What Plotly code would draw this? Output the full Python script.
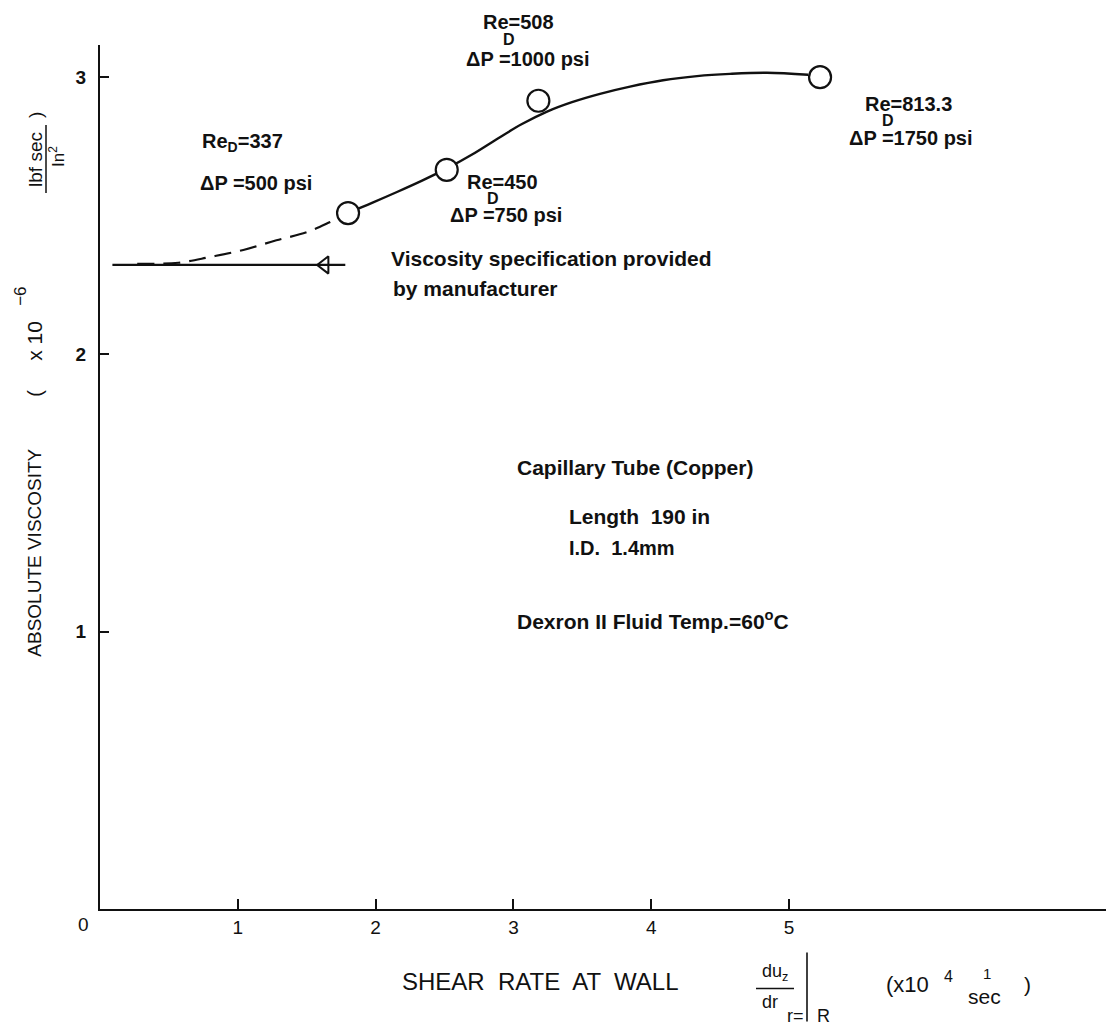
import plotly.graph_objects as go

# ---- data ----
shear_rate = [1.80, 2.516, 3.181, 5.225]        # x10^4 1/sec
viscosity = [2.509, 2.665, 2.914, 2.999]        # x10^-6 lbf sec/in^2

fit_x = [1.800, 1.974, 2.155, 2.337, 2.518, 2.700, 2.881, 3.062, 3.244, 3.425,
         3.628, 3.846, 4.086, 4.332, 4.572, 4.840, 5.138]
fit_y = [2.510, 2.546, 2.585, 2.626, 2.670, 2.720, 2.776, 2.830, 2.875, 2.909,
         2.939, 2.965, 2.988, 3.003, 3.011, 3.015, 3.008]

extrap_x = [0.27, 0.57, 0.80, 1.04, 1.28, 1.50, 1.67, 1.80]
extrap_y = [2.326, 2.330, 2.351, 2.376, 2.411, 2.440, 2.477, 2.509]

spec_x = [0.09, 1.78]
spec_y = [2.322, 2.322]
spec_marker_x = [1.63]
spec_marker_y = [2.322]

x_ticks = [1, 2, 3, 4, 5]
y_ticks = [1, 2, 3]

X_RANGE = [0, 7.30]
Y_RANGE = [0, 3.115]

# ---- layout geometry (pixels) ----
W, H = 1106, 1028
ML, MR, MT = 100, 0, 45
Y0PX = 909.5
MB = H - Y0PX
PW = W - ML - MR
PH = Y0PX - MT


def P(px, py):
    return (px - ML) / PW, (Y0PX - py) / PH


FONT = "Liberation Sans, Arial, Helvetica, sans-serif"
BLK = "#111111"

fig = go.Figure()

fig.add_trace(go.Scatter(x=spec_x, y=spec_y, mode="lines",
                         line=dict(color=BLK, width=2.2),
                         hoverinfo="skip", showlegend=False))
fig.add_trace(go.Scatter(x=extrap_x, y=extrap_y, mode="lines",
                         line=dict(color=BLK, width=2.2, dash="17px,9px", shape="spline"),
                         hoverinfo="skip", showlegend=False))
fig.add_trace(go.Scatter(x=fit_x, y=fit_y, mode="lines",
                         line=dict(color=BLK, width=2.4, shape="spline", smoothing=1.0),
                         hoverinfo="skip", showlegend=False))
fig.add_trace(go.Scatter(x=spec_marker_x, y=spec_marker_y, mode="markers",
                         marker=dict(symbol="triangle-left-open", size=15, color=BLK,
                                     line=dict(color=BLK, width=2)),
                         hoverinfo="skip", showlegend=False))
fig.add_trace(go.Scatter(x=shear_rate, y=viscosity, mode="markers",
                         marker=dict(symbol="circle", size=22, color="white",
                                     line=dict(color=BLK, width=2.2)),
                         hoverinfo="skip", showlegend=False))

annotations = []


def txt(text, px, py, size=20, xanchor="center", bold=True, angle=0):
    x, y = P(px, py)
    annotations.append(dict(
        text=("<b>%s</b>" % text) if bold else text,
        x=x, y=y, xref="paper", yref="paper",
        xanchor=xanchor, yanchor="middle", showarrow=False,
        textangle=angle,
        font=dict(family=FONT, size=size, color=BLK)))


# data-point labels
txt("Re<sub>D</sub>=337", 200, 143, xanchor="left")
txt("ΔP =500 psi", 198, 183, xanchor="left")
txt("Re=508", 481, 22, xanchor="left")
txt("D", 509, 39, size=16)
txt("ΔP =1000 psi", 464, 59, xanchor="left")
txt("Re=450", 465, 182, xanchor="left")
txt("D", 493, 199, size=16)
txt("ΔP =750 psi", 448, 215, xanchor="left")
txt("Re=813.3", 863, 104, xanchor="left")
txt("D", 888, 121, size=16)
txt("ΔP =1750 psi", 847, 138, xanchor="left")

txt("Viscosity specification provided", 389, 259, size=21, xanchor="left")
txt("by manufacturer", 391, 289, size=21, xanchor="left")

txt("Capillary Tube (Copper)", 635, 468, size=21)
txt("Length  190 in", 639, 517, size=21)
txt("I.D.  1.4mm", 567, 548, size=20, xanchor="left")
txt("Dexron II Fluid Temp.=60<sup>o</sup>C", 653, 620, size=21)

# tick label for origin
txt("0", 83, 925, size=19, bold=False)

# x axis title
txt("SHEAR  RATE  AT  WALL", 540, 982, size=24, bold=False)
txt("du<sub>z</sub>", 775, 973, size=18, bold=False)
txt("dr", 770, 1003, size=18, bold=False)
txt("r=", 806, 1017, size=18, bold=False, xanchor="right")
txt("R", 815, 1017, size=18, bold=False, xanchor="left")
txt("(x10", 907, 985, size=22, bold=False)
txt("4", 948, 977, size=16, bold=False)
txt("1", 987, 974, size=15, bold=False)
txt("sec", 984, 997, size=21, bold=False)
txt(")", 1027, 985, size=21, bold=False)

# y axis title (rotated)
txt("ABSOLUTE VISCOSITY", 35, 553, size=19, bold=False, angle=-90)
txt("(", 35, 394, size=20, bold=False, angle=-90)
txt("x 10", 35, 341, size=21, bold=False, angle=-90)
txt("−6", 21, 297, size=17, bold=False, angle=-90)
txt("lbf sec", 36, 160, size=19, bold=False, angle=-90)
txt("In<sup>2</sup>", 57, 157, size=17, bold=False, angle=-90)
txt(")", 36, 115, size=19, bold=False, angle=-90)

shapes = []
x1, y1 = P(756, 989)
x2, _ = P(794, 989)
shapes.append(dict(type="line", xref="paper", yref="paper", x0=x1, x1=x2, y0=y1, y1=y1,
                   line=dict(color=BLK, width=1.5)))
bx, by0 = P(807, 953)
_, by1 = P(807, 1022)
shapes.append(dict(type="line", xref="paper", yref="paper", x0=bx, x1=bx, y0=by0, y1=by1,
                   line=dict(color=BLK, width=1.6)))
fx, fy0 = P(46, 125)
_, fy1 = P(46, 193)
shapes.append(dict(type="line", xref="paper", yref="paper", x0=fx, x1=fx, y0=fy0, y1=fy1,
                   line=dict(color=BLK, width=1.5)))

fig.update_layout(
    width=W, height=H,
    margin=dict(l=ML, r=MR, t=MT, b=MB, pad=0),
    paper_bgcolor="white", plot_bgcolor="white",
    font=dict(family=FONT, color=BLK),
    annotations=annotations, shapes=shapes,
    xaxis=dict(range=X_RANGE, tickvals=x_ticks, ticktext=[str(v) for v in x_ticks],
               ticks="inside", ticklen=10, tickwidth=1.5, tickcolor=BLK,
               showline=True, linecolor=BLK, linewidth=2.2, showgrid=False, zeroline=False,
               tickfont=dict(family=FONT, size=19, color=BLK), fixedrange=True),
    yaxis=dict(range=Y_RANGE, tickvals=y_ticks, ticktext=["<b>%d</b>" % v for v in y_ticks],
               ticks="inside", ticklen=9, tickwidth=1.5, tickcolor=BLK,
               ticklabelstandoff=8,
               showline=True, linecolor=BLK, linewidth=2.2, showgrid=False, zeroline=False,
               tickfont=dict(family=FONT, size=19, color=BLK), fixedrange=True),
)

fig.write_html("out.html", config={"displayModeBar": False},
               post_script="document.body.style.margin='0px';")
